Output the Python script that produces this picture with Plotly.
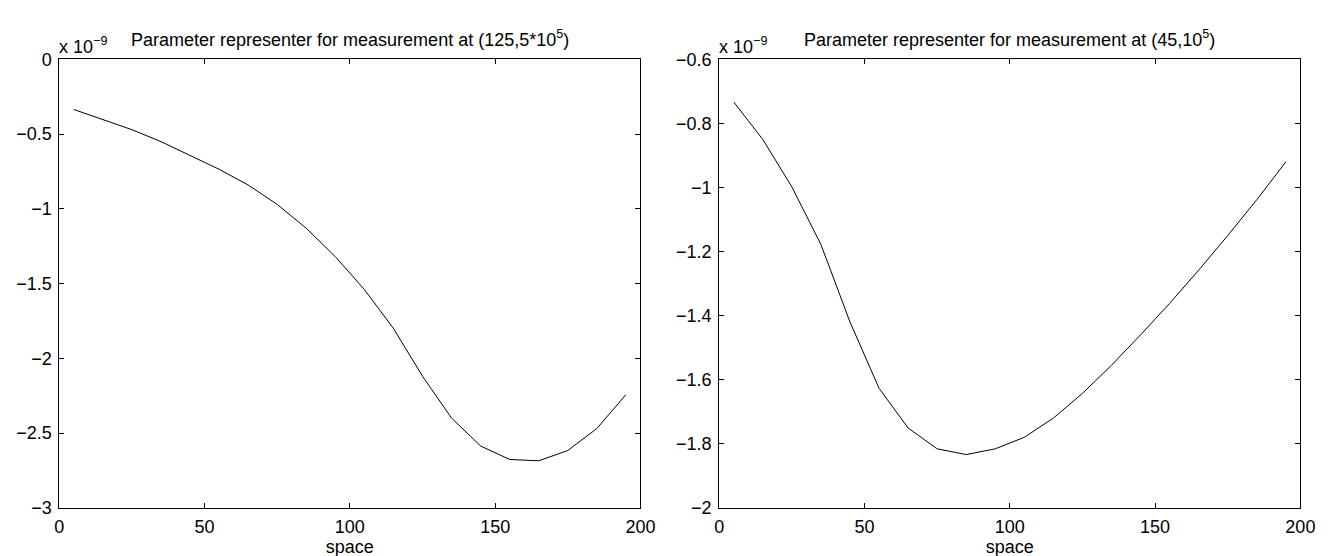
import plotly.graph_objects as go

# ---- data (values in units of 1e-9) ----
space = [5, 15, 25, 35, 45, 55, 65, 75, 85, 95, 105, 115, 125, 135, 145, 155, 165, 175, 185, 195]
rep_left = [-0.335, -0.40, -0.47, -0.55, -0.64, -0.735, -0.84, -0.97, -1.13, -1.32,
            -1.54, -1.80, -2.12, -2.40, -2.587, -2.677, -2.686, -2.617, -2.47, -2.243]
rep_right = [-0.733, -0.85, -0.998, -1.178, -1.42, -1.627, -1.751, -1.816, -1.834, -1.816,
             -1.78, -1.72, -1.643, -1.555, -1.46, -1.362, -1.258, -1.15, -1.038, -0.92]

x_ticks = [0, 50, 100, 150, 200]
x_ticklabels = ["0", "50", "100", "150", "200"]
yl_ticks = [0, -0.5, -1, -1.5, -2, -2.5, -3]
yl_ticklabels = ["0", "\u22120.5", "\u22121", "\u22121.5", "\u22122", "\u22122.5", "\u22123"]
yr_ticks = [-0.6, -0.8, -1, -1.2, -1.4, -1.6, -1.8, -2]
yr_ticklabels = ["\u22120.6", "\u22120.8", "\u22121", "\u22121.2", "\u22121.4", "\u22121.6", "\u22121.8", "\u22122"]

title_left = "Parameter representer for measurement at (125,5*10<sup>5</sup>)"
title_right = "Parameter representer for measurement at (45,10<sup>5</sup>)"
exp_label = "x 10<sup>\u22129</sup>"
x_title = "space"

W, H = 1332, 556
FONT = "Liberation Sans, Arial, Helvetica, sans-serif"
FS = 18

dom_l = [47 / W, 637 / W]
dom_r = [717 / W, 1307 / W]
dom_y = [1 - 508 / H, 1 - 43 / H]

fig = go.Figure()
fig.add_trace(go.Scatter(x=space, y=rep_left, mode="lines", xaxis="x", yaxis="y",
                         line=dict(color="black", width=1), showlegend=False))
fig.add_trace(go.Scatter(x=space, y=rep_right, mode="lines", xaxis="x2", yaxis="y2",
                         line=dict(color="black", width=1), showlegend=False))

axis_common = dict(showline=True, linecolor="black", linewidth=1, mirror="ticks",
                   ticks="inside", ticklen=5, tickcolor="black", showgrid=False,
                   zeroline=False, tickfont=dict(family=FONT, size=FS, color="black"))

fig.update_layout(
    width=W, height=H,
    margin=dict(l=0, r=0, t=0, b=0),
    paper_bgcolor="white", plot_bgcolor="white",
    font=dict(family=FONT, color="black"),
    xaxis=dict(domain=dom_l, range=[0, 200], tickvals=x_ticks, ticktext=x_ticklabels,
               anchor="y", ticklabelstandoff=3,
               title=dict(text=x_title, font=dict(family=FONT, size=FS), standoff=2),
               **axis_common),
    yaxis=dict(domain=dom_y, range=[-3, 0], tickvals=yl_ticks, ticktext=yl_ticklabels,
               anchor="x", ticklabelstandoff=3, **axis_common),
    xaxis2=dict(domain=dom_r, range=[0, 200], tickvals=x_ticks, ticktext=x_ticklabels,
                anchor="y2", ticklabelstandoff=3,
                title=dict(text=x_title, font=dict(family=FONT, size=FS), standoff=2),
                **axis_common),
    yaxis2=dict(domain=dom_y, range=[-2, -0.6], tickvals=yr_ticks, ticktext=yr_ticklabels,
                anchor="x2", ticklabelstandoff=3, **axis_common),
)

for dom, ttl in ((dom_l, title_left), (dom_r, title_right)):
    fig.add_annotation(text=ttl, xref="paper", yref="paper", x=(dom[0] + dom[1]) / 2,
                       y=1 - 21 / H, xanchor="center", yanchor="middle", showarrow=False,
                       font=dict(family=FONT, size=FS, color="black"))
    fig.add_annotation(text=exp_label, xref="paper", yref="paper", x=dom[0],
                       y=1 - 29 / H, xanchor="left", yanchor="middle", showarrow=False,
                       xshift=-2, font=dict(family=FONT, size=FS, color="black"))

fig.write_html("out.html")
